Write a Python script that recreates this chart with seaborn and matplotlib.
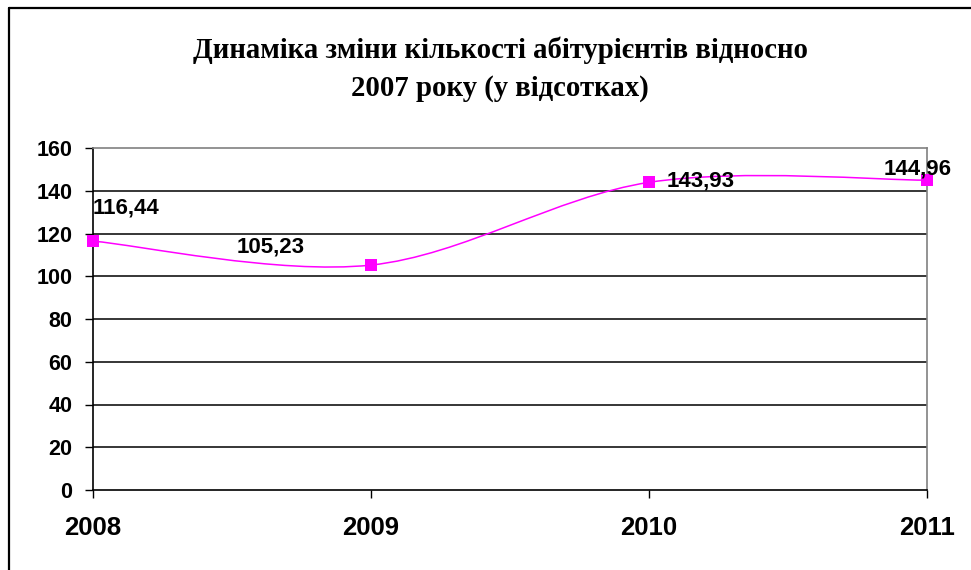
import numpy as np
import pandas as pd
import seaborn as sns
import matplotlib
matplotlib.use("Agg")
import matplotlib.pyplot as plt
from matplotlib.path import Path
from matplotlib.patches import PathPatch
from matplotlib.lines import Line2D

years = ["2008", "2009", "2010", "2011"]
values = [116.44, 105.23, 143.93, 144.96]
value_labels = ["116,44", "105,23", "143,93", "144,96"]
y_ticks = [0, 20, 40, 60, 80, 100, 120, 140, 160]
title_lines = ["Динаміка зміни кількості абітурієнтів відносно", "2007 року (у відсотках)"]

sns.set_theme(style="white")
plt.rcParams["font.family"] = ["Liberation Sans", "DejaVu Sans"]
plt.rcParams["text.color"] = "black"
plt.rcParams["xtick.color"] = "black"
plt.rcParams["ytick.color"] = "black"
plt.rcParams["axes.labelcolor"] = "black"

df = pd.DataFrame({"x": np.arange(len(years)), "y": values})

fig = plt.figure(figsize=(9.71, 5.70), dpi=100)
ax = fig.add_axes([93 / 971, 1 - 490 / 570, (927 - 93) / 971, (490 - 148) / 570])

# smoothed line (Catmull-Rom style Bezier, like Excel smoothing)
pts = np.column_stack([df["x"].values, df["y"].values]).astype(float)
n = len(pts)
verts = [tuple(pts[0])]
codes = [Path.MOVETO]
for i in range(n - 1):
    p0 = pts[i - 1] if i > 0 else pts[i]
    p1 = pts[i]
    p2 = pts[i + 1]
    p3 = pts[i + 2] if i + 2 < n else pts[i + 1]
    c1 = p1 + (p2 - p0) / 6
    c2 = p2 - (p3 - p1) / 6
    verts += [tuple(c1), tuple(c2), tuple(p2)]
    codes += [Path.CURVE4] * 3
ax.add_patch(PathPatch(Path(verts, codes), facecolor="none", edgecolor="#FF00FF",
                       lw=1.1, zorder=3, clip_on=False))

sns.scatterplot(data=df, x="x", y="y", marker="s", s=75, color="#FF00FF",
                edgecolor="#FF00FF", linewidth=0, ax=ax, zorder=4, clip_on=False)

ax.set_xlim(0, 3)
ax.set_ylim(0, 160)
ax.set_xticks(df["x"].values)
ax.set_xticklabels(years, fontsize=18.5, fontweight="bold", color="black")
ax.set_yticks(y_ticks)
ax.set_yticklabels([str(t) for t in y_ticks], fontsize=15.5, fontweight="bold", color="black")
ax.set_xlabel("")
ax.set_ylabel("")
ax.tick_params(axis="x", direction="out", length=5.5, width=1, color="black", pad=13, bottom=True)
ax.tick_params(axis="y", direction="out", length=6, width=1, color="black", pad=9, left=True)

for t in y_ticks[1:-1]:
    ax.axhline(t, color="black", lw=1.1, zorder=1)

for side in ["left", "bottom"]:
    ax.spines[side].set_color("black")
    ax.spines[side].set_linewidth(1.2)
for side in ["top", "right"]:
    ax.spines[side].set_visible(True)
    ax.spines[side].set_color("#808080")
    ax.spines[side].set_linewidth(1.2)

# data labels
offsets = [(0, 24, "left"), (-48, 13, "right"), (13, 1, "left"), (-7, 8, "center")]
for (x, y), lab, (dx, dy, ha) in zip(pts, value_labels, offsets):
    ax.annotate(lab, (x, y), xytext=(dx, dy), textcoords="offset points",
                ha=ha, va="center", fontsize=16, fontweight="bold", color="black",
                annotation_clip=False, zorder=5)

# title
fig.text(500 / 971, 1 - 50 / 570, title_lines[0], ha="center", va="center", color="black",
         fontsize=20.7, fontweight="bold", family=["Liberation Serif", "DejaVu Serif"])
fig.text(500 / 971, 1 - 88 / 570, title_lines[1], ha="center", va="center", color="black",
         fontsize=20.7, fontweight="bold", family=["Liberation Serif", "DejaVu Serif"])

# chart border (left and top visible)
fig.add_artist(Line2D([9 / 971, 9 / 971], [0, 1 - 8 / 570], transform=fig.transFigure,
                      color="black", lw=1.6))
fig.add_artist(Line2D([9 / 971, 1], [1 - 8 / 570, 1 - 8 / 570], transform=fig.transFigure,
                      color="black", lw=1.6))

fig.savefig("out.png", dpi=100)
